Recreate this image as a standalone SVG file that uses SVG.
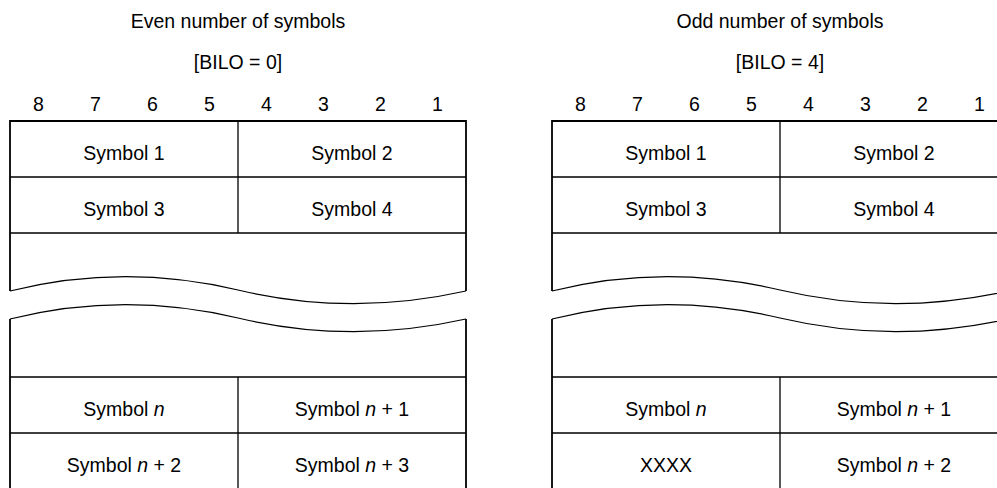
<svg xmlns="http://www.w3.org/2000/svg" width="997" height="488" viewBox="0 0 997 488">
<style>
text{font-family:"Liberation Sans",Arial,Helvetica,sans-serif;font-size:19.5px;fill:#000;text-anchor:middle}
.it{font-style:italic}
.frame{fill:none;stroke:#000;stroke-width:1.8}
.line{fill:none;stroke:#000;stroke-width:1.3}
.wave{fill:none;stroke:#000;stroke-width:1.2}
</style>
<rect width="997" height="488" fill="#fff"/>
<defs>
<g id="table">
<path class="frame" d="M10,291 V121 H466 V291 M10,319 V490 M466,319 V490"/>
<path class="line" d="M10,177 H466 M10,233 H466 M10,377 H466 M10,433 H466 M238,121 V233 M238,377 V490"/>
<path class="wave" d="M10,291 C86,272 162,272 238,290 C314,308 390,308 466,291"/>
<path class="wave" d="M10,319 C86,300 162,300 238,318 C314,336 390,336 466,319"/>
<g>
<text x="38.5" y="111">8</text><text x="95.5" y="111">7</text><text x="152.5" y="111">6</text><text x="209.5" y="111">5</text>
<text x="266.5" y="111">4</text><text x="323.5" y="111">3</text><text x="380.5" y="111">2</text><text x="437.5" y="111">1</text>
</g>
</g>
</defs>
<g id="left-table">
<text x="238" y="28">Even number of symbols</text>
<text x="238" y="69">[BILO = 0]</text>
<use href="#table"/>
<g id="l-sym1"><text x="124" y="159.5">Symbol 1</text></g>
<g id="l-sym2"><text x="352" y="159.5">Symbol 2</text></g>
<g id="l-sym3"><text x="124" y="215.5">Symbol 3</text></g>
<g id="l-sym4"><text x="352" y="215.5">Symbol 4</text></g>
<g id="l-symn"><text x="124" y="415.5">Symbol <tspan class="it">n</tspan></text></g>
<g id="l-symn1"><text x="352" y="415.5">Symbol <tspan class="it">n</tspan> + 1</text></g>
<g id="l-symn2"><text x="124" y="471.5">Symbol <tspan class="it">n</tspan> + 2</text></g>
<g id="l-symn3"><text x="352" y="471.5">Symbol <tspan class="it">n</tspan> + 3</text></g>
</g>
<g id="right-table">
<text x="780" y="28">Odd number of symbols</text>
<text x="780" y="69">[BILO = 4]</text>
<use href="#table" x="542"/>
<g id="r-sym1"><text x="666" y="159.5">Symbol 1</text></g>
<g id="r-sym2"><text x="894" y="159.5">Symbol 2</text></g>
<g id="r-sym3"><text x="666" y="215.5">Symbol 3</text></g>
<g id="r-sym4"><text x="894" y="215.5">Symbol 4</text></g>
<g id="r-symn"><text x="666" y="415.5">Symbol <tspan class="it">n</tspan></text></g>
<g id="r-symn1"><text x="894" y="415.5">Symbol <tspan class="it">n</tspan> + 1</text></g>
<g id="r-xxxx"><text x="666" y="471.5">XXXX</text></g>
<g id="r-symn2"><text x="894" y="471.5">Symbol <tspan class="it">n</tspan> + 2</text></g>
</g>
</svg>
